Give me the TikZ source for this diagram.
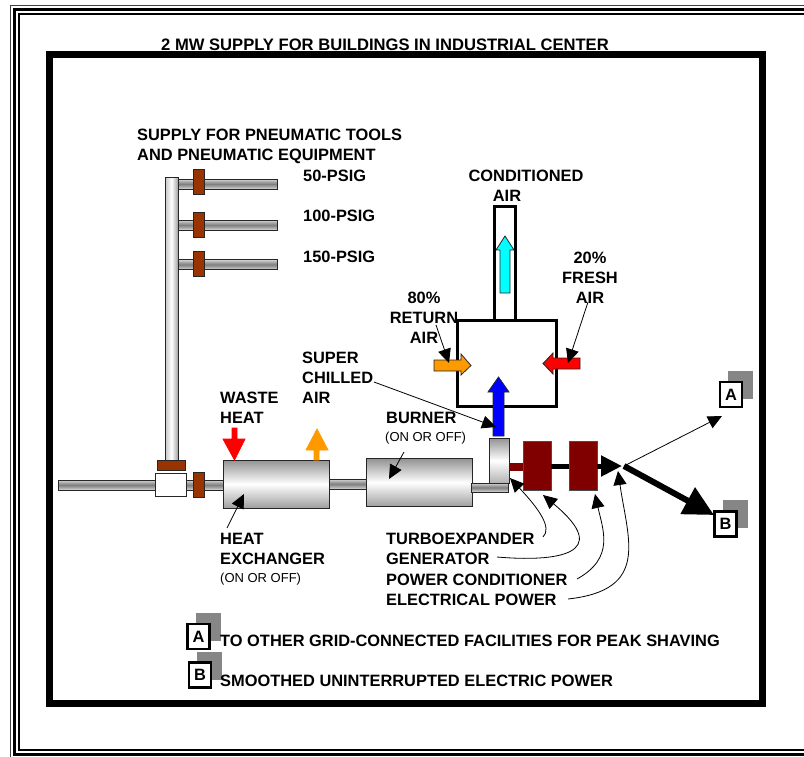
\documentclass[tikz,border=0pt]{standalone}
\usepackage{fontspec}
\setmainfont{Liberation Sans}
\usetikzlibrary{arrows.meta}
\pgfdeclareverticalshading{pipeband}{100bp}{color(0bp)=(gray!70); color(20bp)=(gray!15); color(38bp)=(gray!70); color(50bp)=(gray); color(62bp)=(gray!70); color(80bp)=(gray!15); color(100bp)=(gray!70)}
\definecolor{valvebrown}{HTML}{993300}
\definecolor{darkmaroon}{HTML}{800000}
\definecolor{airorange}{HTML}{FF9900}
\definecolor{aircyan}{HTML}{00FFFF}
\definecolor{airblue}{HTML}{0000FF}
\definecolor{airred}{HTML}{FF0000}
\tikzset{
    lbl/.style={anchor=west, inner sep=0, align=left, font=\bfseries\fontsize{16.4}{20}\selectfont},
    lblc/.style={lbl, anchor=center, align=center},
    small/.style={anchor=west, inner sep=0, font=\fontsize{13}{14}\selectfont},
    part/.style={draw=black!85, line width=1pt, inner sep=0, outer sep=0},
    pipe/.style={part, shading=pipeband},
    drum/.style={part, top color=gray!85, bottom color=gray!75, middle color=white},
    valve/.style={part, fill=valvebrown},
    dynamo/.style={part, draw=black!70, fill=darkmaroon},
    flow/.style={draw=black!85, line width=0.8pt},
    duct/.style={draw, line width=3pt, inner sep=0, outer sep=0},
    shadow/.style={fill=gray!95, inner sep=0, minimum width=25pt, minimum height=28pt},
    tag/.style={draw, line width=2.2pt, fill=white, inner sep=0, minimum width=22pt, minimum height=25pt, font=\bfseries\fontsize{16.4}{16.4}\selectfont},
    leader/.style={line width=0.8pt, -{Stealth[length=14pt,width=13pt,inset=0pt]}},
}
\begin{document}
\begin{tikzpicture}[x=1pt, y=-1pt]
    \useasboundingbox (0, 0) rectangle (804, 756);
    \draw [line width=1.5pt, black!75] (10.7, 5.5) rectangle (830, 790);
    \draw [line width=2.5pt] (14.7, 9.3) rectangle (830, 754.7);
    \draw [line width=2pt] (18.8, 14) rectangle (830, 750);
    \draw [line width=7pt] (49.5, 54.5) rectangle (762.5, 703.5);

    \draw (161, 45) node[lbl, font=\bfseries\fontsize{16.6}{20}\selectfont] (title) {2 MW SUPPLY FOR BUILDINGS IN INDUSTRIAL CENTER};
    \draw (137, 146) node[lbl] (supply) {SUPPLY FOR PNEUMATIC TOOLS\\AND PNEUMATIC EQUIPMENT};

    \draw (171.5, 318.5) node[part, left color=gray!45, right color=gray!75, middle color=white, minimum width=13pt, minimum height=283pt] (riser) {};
    \draw (227.5, 184) node[pipe, minimum width=99pt, minimum height=10pt] (branchA) {};
    \draw (227.5, 225) node[pipe, minimum width=99pt, minimum height=10pt] (branchB) {};
    \draw (227.5, 264.5) node[pipe, minimum width=99pt, minimum height=10pt] (branchC) {};
    \draw (198.5, 181.5) node[valve, minimum width=11pt, minimum height=25pt] (valveA) {};
    \draw (198.5, 224.5) node[valve, minimum width=11pt, minimum height=25pt] (valveB) {};
    \draw (198.5, 263.5) node[valve, minimum width=11pt, minimum height=25pt] (valveC) {};
    \draw (303, 175.5) node[lbl] (psigA) {50-PSIG};
    \draw (303, 215.5) node[lbl] (psigB) {100-PSIG};
    \draw (303, 256.5) node[lbl] (psigC) {150-PSIG};

    \draw (140, 485) node[pipe, minimum width=163pt, minimum height=10pt] (inlet) {};
    \draw (204.5, 485) node[pipe, minimum width=37pt, minimum height=10pt] (inletB) {};
    \draw (170.5, 484.5) node[part, fill=white, minimum width=31pt, minimum height=23pt] (tee) {};
    \draw (171, 465) node[valve, minimum width=28pt, minimum height=10pt] (valveD) {};
    \draw (198.5, 484.5) node[valve, minimum width=11pt, minimum height=25pt] (valveE) {};
    \draw (347.5, 484) node[pipe, minimum width=37pt, minimum height=10pt] (link) {};
    \draw (276, 484) node[drum, minimum width=106pt, minimum height=48pt] (exchanger) {};
    \draw (419, 482.5) node[drum, minimum width=106pt, minimum height=48pt] (burner) {};
    \draw (499, 460.5) node[part, top color=gray!85, bottom color=gray!60, middle color=white, minimum width=20pt, minimum height=45pt] (turbine) {};
    \draw (490, 487.5) node[pipe, minimum width=37pt, minimum height=9pt] (turbineFeed) {};
    \draw (516, 467) node[part, draw=none, fill=darkmaroon, minimum width=15pt, minimum height=8pt] (shaft) {};
    \draw (537, 466) node[dynamo, minimum width=28pt, minimum height=49pt] (generator) {};
    \draw (583, 466) node[dynamo, minimum width=28pt, minimum height=49pt] (conditioner) {};
    \draw [line width=5pt] (generator.east) -- (conditioner.west);

    \coordinate (junction) at (622, 466);
    \coordinate (branch) at (624, 466);
    \coordinate (tagAend) at (722, 416);
    \coordinate (tagBend) at (714, 515);
    \draw [line width=5pt, -{Stealth[length=21pt,width=20pt,inset=0pt]}] (conditioner.east) -- (junction);
    \draw [leader] (branch) -- (tagAend);
    \draw [line width=6pt, -{Stealth[length=30pt,width=29pt,inset=0pt]}] (branch) -- (tagBend);

    \draw (740.5, 385) node[shadow] (tagAback) {};
    \draw (731, 394.5) node[tag] (tagA) {A};
    \draw (735.5, 514) node[shadow] (tagBback) {};
    \draw (725.5, 524) node[tag] (tagB) {B};

    \draw (506.5, 363.5) node[duct, minimum width=99pt, minimum height=86pt] (mixer) {};
    \draw (504.5, 263) node[duct, fill=white, minimum width=21pt, minimum height=114pt] (stack) {};
    \draw [flow, fill=aircyan] (500, 293) -- (500, 250) -- (496, 250) -- (505, 236) -- (514, 250) -- (510, 250) -- (510, 293) -- cycle;
    \draw [flow, fill=airorange] (434, 360) -- (461, 360) -- (461, 354) -- (471, 365.5) -- (461, 375) -- (461, 371) -- (434, 371) -- cycle;
    \draw [flow, fill=airred] (580, 358) -- (553, 358) -- (553, 353) -- (543, 363.5) -- (553, 374) -- (553, 369) -- (580, 369) -- cycle;
    \draw [flow, fill=airblue] (493, 436) -- (493, 392) -- (488, 392) -- (498.5, 377) -- (509, 392) -- (504, 392) -- (504, 436) -- cycle;
    \draw [flow, draw=airred, fill=airred] (232, 428) -- (237, 428) -- (237, 439) -- (245, 439) -- (234.5, 460) -- (223, 439) -- (232, 439) -- cycle;
    \draw [flow, draw=airorange, fill=airorange] (314, 460) -- (314, 450) -- (306, 450) -- (317, 429) -- (328, 450) -- (319, 450) -- (319, 460) -- cycle;

    \draw (526, 175.5) node[lblc] (conditionedA) {CONDITIONED};
    \draw (507, 195.5) node[lblc] (conditionedB) {AIR};
    \draw (424, 318) node[lblc] (returnair) {80\%\\RETURN\\AIR};
    \draw (590, 278) node[lblc] (freshair) {20\%\\FRESH\\AIR};
    \draw (302, 378) node[lbl] (chilled) {SUPER\\CHILLED\\AIR};
    \draw (220, 408) node[lbl] (waste) {WASTE\\HEAT};
    \draw (386, 417.5) node[lbl] (burnerlabel) {BURNER};
    \draw (385, 438) node[small] (burnerstate) {(ON OR OFF)};
    \draw (220, 549) node[lbl] (hxlabel) {HEAT\\EXCHANGER};
    \draw (220, 579) node[small] (hxstate) {(ON OR OFF)};
    \draw (386, 538.5) node[lbl] (turbolabel) {TURBOEXPANDER};
    \draw (386, 558.5) node[lbl] (genlabel) {GENERATOR};
    \draw (386, 579.5) node[lbl] (powerlabel) {POWER CONDITIONER};
    \draw (386, 599.5) node[lbl] (eleclabel) {ELECTRICAL POWER};

    \coordinate (returntail) at (436, 325);
    \coordinate (returntip) at (449, 363);
    \coordinate (freshtail) at (588, 302);
    \coordinate (freshtip) at (568, 363);
    \coordinate (chilledtail) at (374, 382);
    \coordinate (chilledtip) at (496, 427);
    \coordinate (burnertail) at (404, 452);
    \coordinate (burnertip) at (389, 479);
    \coordinate (hxtail) at (227, 528);
    \coordinate (hxtip) at (244, 494);
    \coordinate (turbotail) at (543, 537);
    \coordinate (turbotip) at (510, 478);
    \coordinate (gentail) at (497, 557);
    \coordinate (gentip) at (543, 495);
    \coordinate (powertail) at (577, 579);
    \coordinate (powertip) at (595, 494);
    \coordinate (electail) at (568, 599);
    \coordinate (electip) at (618, 471);
    \draw [leader] (returntail) -- (returntip);
    \draw [leader] (freshtail) -- (freshtip);
    \draw [leader] (chilledtail) -- (chilledtip);
    \draw [leader] (burnertail) -- (burnertip);
    \draw [leader] (hxtail) -- (hxtip);
    \draw [leader] (turbotail) .. controls (552, 528) and (540, 510) .. (turbotip);
    \draw [leader] (gentail) .. controls (555, 562) and (615, 555) .. (gentip);
    \draw [leader] (powertail) .. controls (615, 558) and (603, 530) .. (powertip);
    \draw [leader] (electail) .. controls (650, 590) and (628, 540) .. (electip);

    \draw (208.5, 627) node[shadow] (legendAback) {};
    \draw (198.5, 636.5) node[tag] (legendA) {A};
    \draw (209.5, 666) node[shadow] (legendBback) {};
    \draw (200, 675) node[tag] (legendB) {B};
    \draw (220, 640.5) node[lbl] (legendAtext) {TO OTHER GRID-CONNECTED FACILITIES FOR PEAK SHAVING};
    \draw (220, 680.5) node[lbl] (legendBtext) {SMOOTHED UNINTERRUPTED ELECTRIC POWER};
\end{tikzpicture}
\end{document}
